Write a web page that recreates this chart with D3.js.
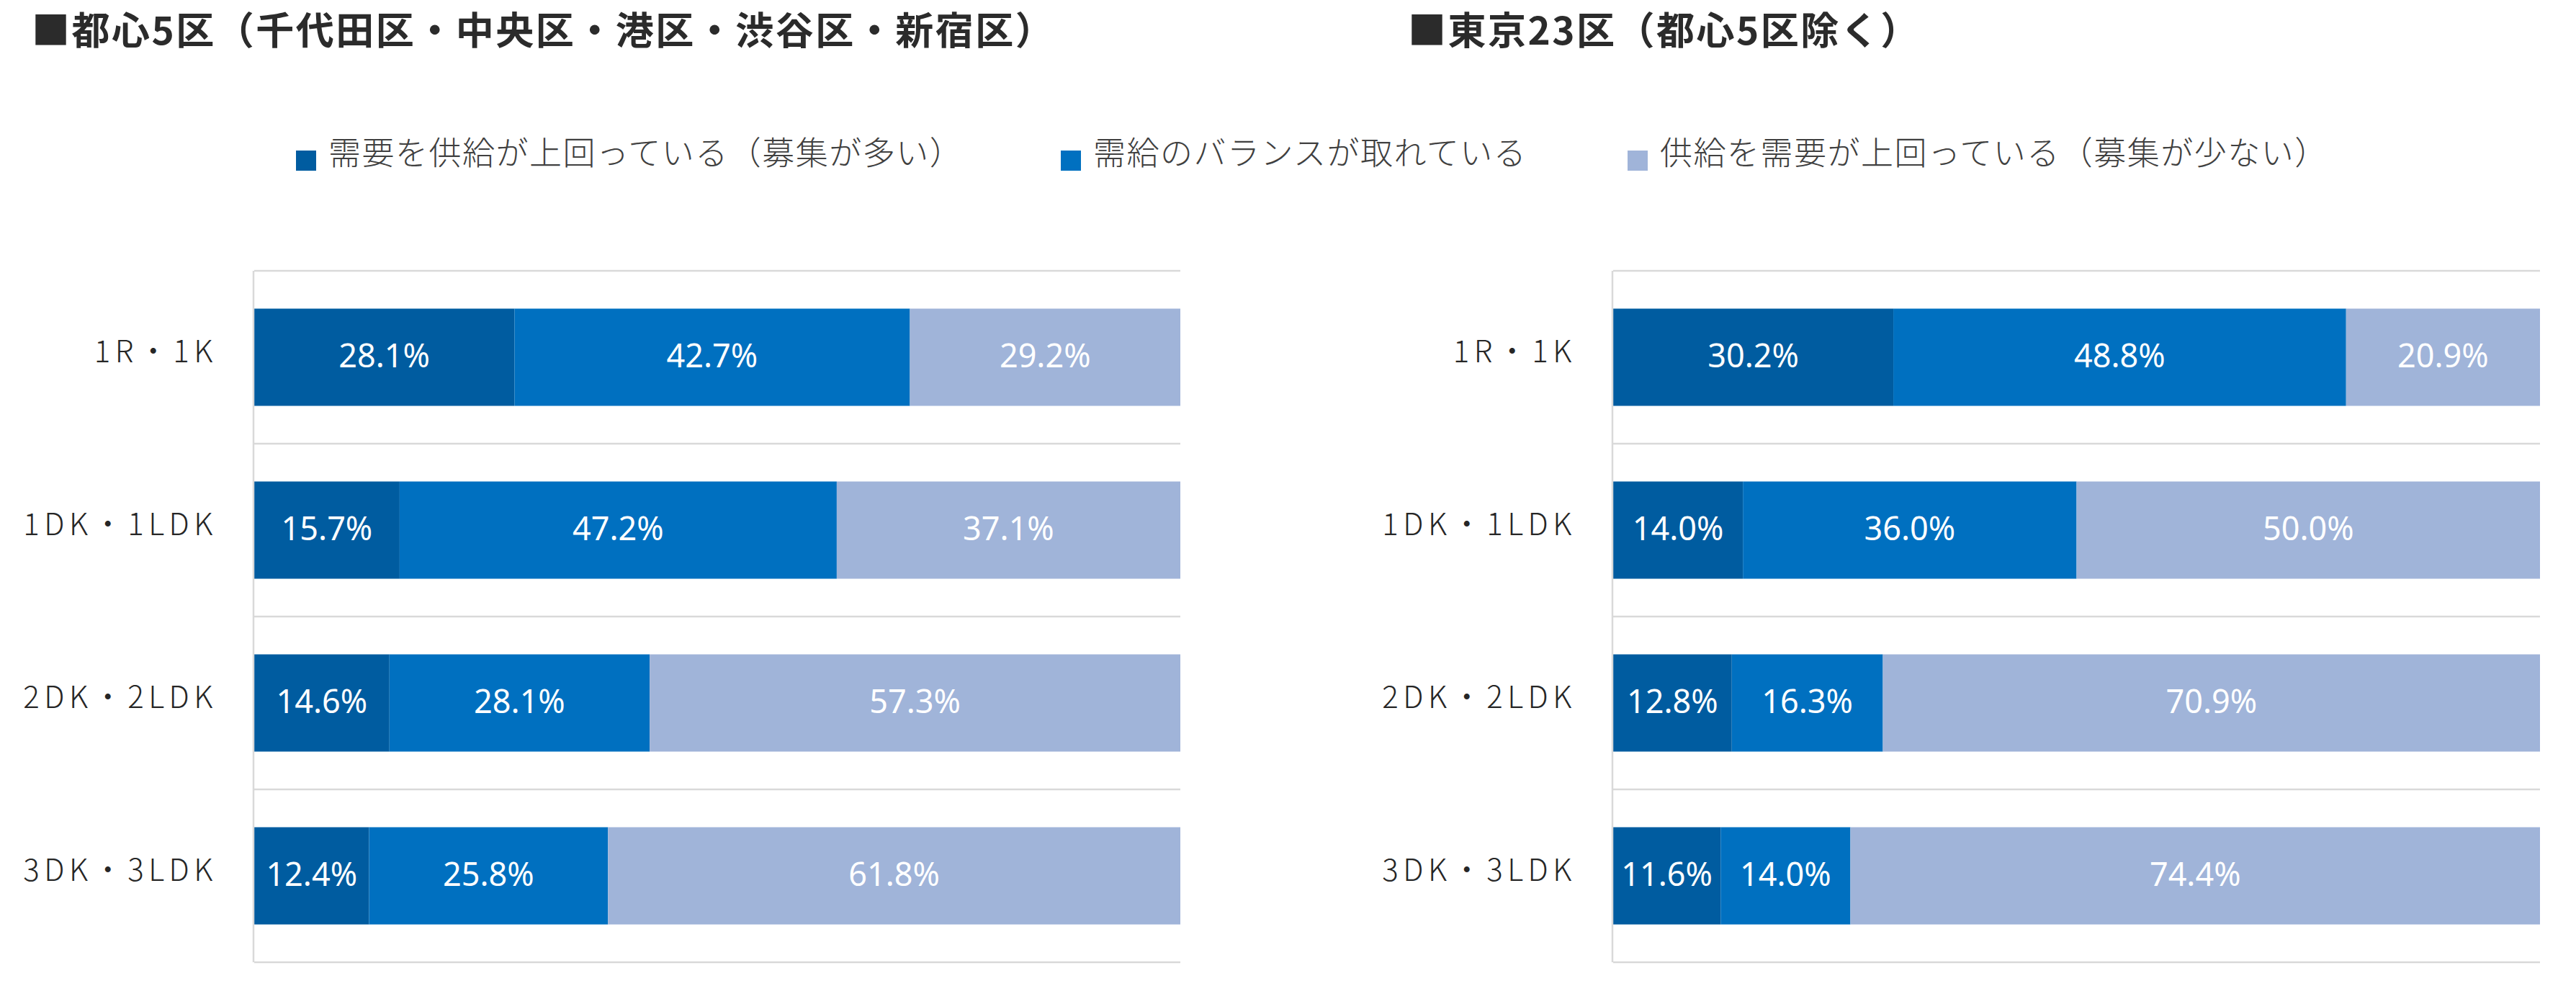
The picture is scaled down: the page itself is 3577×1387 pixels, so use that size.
<!DOCTYPE html>
<html>
<head>
	<meta charset="utf-8">
	<title>需給バランス</title>
	<script src="https://cdn.jsdelivr.net/npm/d3@7"></script>
	<style>
		body { margin: 0; background: #fff; }
		svg { display: block; }
	</style>
</head>
<body>
	<div id="chart"></div>
	<script>

		// data

		const categories = ['1R・1K', '1DK・1LDK', '2DK・2LDK', '3DK・3LDK'];
		const seriesNames = [
			'需要を供給が上回っている（募集が多い）',
			'需給のバランスが取れている',
			'供給を需要が上回っている（募集が少ない）'
		];
		const titles = [
			'■都心5区（千代田区・中央区・港区・渋谷区・新宿区）',
			'■東京23区（都心5区除く）'
		];
		const toshin5 = [
			[28.1, 15.7, 14.6, 12.4],
			[42.7, 47.2, 28.1, 25.8],
			[29.2, 37.1, 57.3, 61.8]
		];
		const tokyo23 = [
			[30.2, 14.0, 12.8, 11.6],
			[48.8, 36.0, 16.3, 14.0],
			[20.9, 50.0, 70.9, 74.4]
		];

		// style

		const width = 3577;
		const height = 1387;
		const colors = ['#005ca0', '#0070c0', '#a0b4d9'];
		const gridColor = '#d9d9d9';
		const cjk = '"Noto Sans CJK JP", "Noto Sans", sans-serif';

		const svg = d3.select('#chart').append('svg')
			.attr('width', width)
			.attr('height', height)
			.attr('viewBox', [0, 0, width, height]);

		// titles
		const titleX = [44, 1955];
		titles.forEach((t, i) => {
			svg.append('text')
				.attr('x', titleX[i])
				.attr('y', 62)
				.style('font-family', cjk)
				.style('font-weight', 700)
				.style('font-size', '53px')
				.style('letter-spacing', '2.5px')
				.style('fill', '#2b2b2b')
				.text(t);
		});

		// legend
		const legendX = [411, 1473, 2260];
		seriesNames.forEach((name, i) => {
			const g = svg.append('g').attr('transform', `translate(${legendX[i]},0)`);
			g.append('rect')
				.attr('x', 0)
				.attr('y', 209)
				.attr('width', 28)
				.attr('height', 28)
				.attr('fill', colors[i]);
			g.append('text')
				.attr('x', 45)
				.attr('y', 229)
				.style('font-family', cjk)
				.style('font-weight', 300)
				.style('font-size', '45px')
				.style('letter-spacing', '1.5px')
				.style('fill', '#404040')
				.text(name);
		});

		function drawPanel(values, x0, x1) {
			const rows = categories.map((c, i) => {
				const r = { category: c };
				seriesNames.forEach((s, j) => r[s] = values[j][i]);
				return r;
			});

			const stack = d3.stack()
				.keys(seriesNames)
				.offset(d3.stackOffsetExpand);
			const layers = stack(rows);

			const x = d3.scaleLinear().domain([0, 1]).range([x0, x1]);
			const y = d3.scaleBand()
				.domain(categories)
				.range([376, 1336])
				.paddingInner(0.4375)
				.paddingOuter(0.21875);

			const g = svg.append('g');

			// horizontal gridlines at band boundaries
			const lines = d3.range(categories.length + 1).map(i => y.range()[0] + i * y.step());
			g.selectAll('line.grid')
				.data(lines)
				.join('line')
				.attr('class', 'grid')
				.attr('x1', x0)
				.attr('x2', x1)
				.attr('y1', d => d)
				.attr('y2', d => d)
				.attr('stroke', gridColor)
				.attr('stroke-width', 2.5);

			// bars
			layers.forEach((layer, j) => {
				g.selectAll(null)
					.data(layer)
					.join('rect')
					.attr('x', d => x(d[0]))
					.attr('y', d => y(d.data.category))
					.attr('width', d => x(d[1]) - x(d[0]))
					.attr('height', y.bandwidth())
					.attr('fill', colors[j]);

				g.selectAll(null)
					.data(layer)
					.join('text')
					.attr('x', d => (x(d[0]) + x(d[1])) / 2)
					.attr('y', d => y(d.data.category) + y.bandwidth() / 2 + 14)
					.attr('text-anchor', 'middle')
					.style('font-family', '"Noto Sans", sans-serif')
					.style('font-size', '45px')
					.style('fill', '#ffffff')
					.text(d => d.data[layer.key].toFixed(1) + '%');
			});

			// vertical axis line
			g.append('line')
				.attr('x1', x0 - 1)
				.attr('x2', x0 - 1)
				.attr('y1', y.range()[0])
				.attr('y2', y.range()[1])
				.attr('stroke', gridColor)
				.attr('stroke-width', 2.5);

			// category labels
			g.selectAll('text.cat')
				.data(categories)
				.join('text')
				.attr('class', 'cat')
				.attr('x', x0 - 51)
				.attr('y', d => y(d) + y.bandwidth() / 2 + 7)
				.attr('text-anchor', 'end')
				.style('font-family', cjk)
				.style('font-weight', 300)
				.style('font-size', '42px')
				.style('letter-spacing', '6.5px')
				.style('fill', '#262626')
				.text(d => d);
		}

		drawPanel(toshin5, 353, 1639);
		drawPanel(tokyo23, 2240, 3527);

	</script>
</body>
</html>
